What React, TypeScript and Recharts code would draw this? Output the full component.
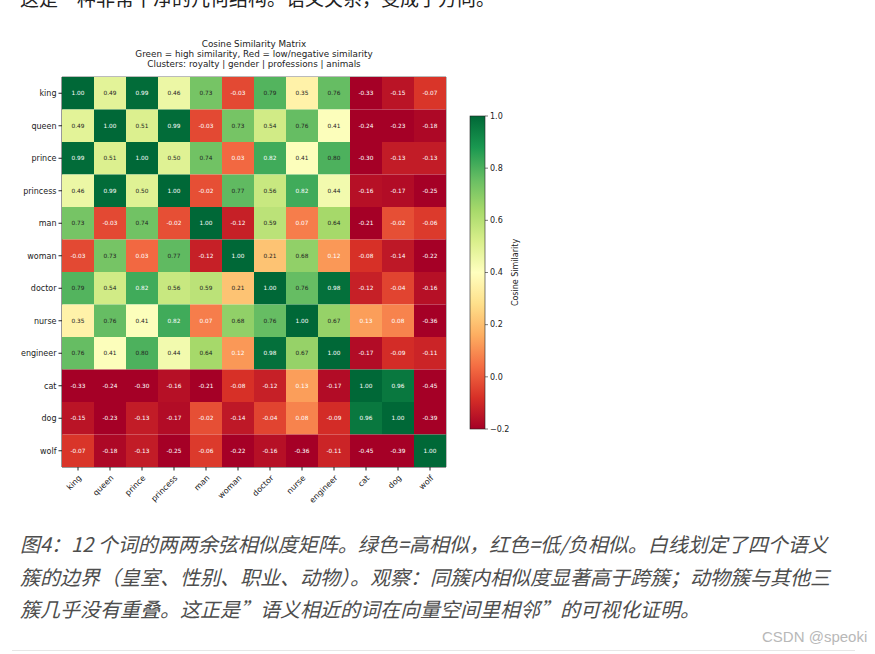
import React from 'react';
import {
  ScatterChart,
  Scatter,
  XAxis,
  YAxis,
  ReferenceLine,
  ReferenceArea,
} from 'recharts';

const WORDS = ['king', 'queen', 'prince', 'princess', 'man', 'woman', 'doctor', 'nurse', 'engineer', 'cat', 'dog', 'wolf'];

const SIM = [
  [1.0, 0.49, 0.99, 0.46, 0.73, -0.03, 0.79, 0.35, 0.76, -0.33, -0.15, -0.07],
  [0.49, 1.0, 0.51, 0.99, -0.03, 0.73, 0.54, 0.76, 0.41, -0.24, -0.23, -0.18],
  [0.99, 0.51, 1.0, 0.5, 0.74, 0.03, 0.82, 0.41, 0.8, -0.3, -0.13, -0.13],
  [0.46, 0.99, 0.5, 1.0, -0.02, 0.77, 0.56, 0.82, 0.44, -0.16, -0.17, -0.25],
  [0.73, -0.03, 0.74, -0.02, 1.0, -0.12, 0.59, 0.07, 0.64, -0.21, -0.02, -0.06],
  [-0.03, 0.73, 0.03, 0.77, -0.12, 1.0, 0.21, 0.68, 0.12, -0.08, -0.14, -0.22],
  [0.79, 0.54, 0.82, 0.56, 0.59, 0.21, 1.0, 0.76, 0.98, -0.12, -0.04, -0.16],
  [0.35, 0.76, 0.41, 0.82, 0.07, 0.68, 0.76, 1.0, 0.67, 0.13, 0.08, -0.36],
  [0.76, 0.41, 0.8, 0.44, 0.64, 0.12, 0.98, 0.67, 1.0, -0.17, -0.09, -0.11],
  [-0.33, -0.24, -0.3, -0.16, -0.21, -0.08, -0.12, 0.13, -0.17, 1.0, 0.96, -0.45],
  [-0.15, -0.23, -0.13, -0.17, -0.02, -0.14, -0.04, 0.08, -0.09, 0.96, 1.0, -0.39],
  [-0.07, -0.18, -0.13, -0.25, -0.06, -0.22, -0.16, -0.36, -0.11, -0.45, -0.39, 1.0],
];

const CLUSTER_BREAKS = [4, 6, 9];
const CBAR_TICKS = [1.0, 0.8, 0.6, 0.4, 0.2, 0.0, -0.2];
const VMIN = -0.2;
const VMAX = 1.0;

const TITLE_LINES = [
  'Cosine Similarity Matrix',
  'Green = high similarity, Red = low/negative similarity',
  'Clusters: royalty | gender | professions | animals',
];

const TOP_TEXT = '这是一种非常干净的几何结构。语义关系，变成了方向。';
const CAPTION_LINES = [
  '图4：12 个词的两两余弦相似度矩阵。绿色=高相似，红色=低/负相似。白线划定了四个语义',
  '簇的边界（皇室、性别、职业、动物）。观察：同簇内相似度显著高于跨簇；动物簇与其他三',
  '簇几乎没有重叠。这正是”语义相近的词在向量空间里相邻”的可视化证明。',
];

// RdYlGn
const RDYLGN = ['#a50026', '#d73027', '#f46d43', '#fdae61', '#fee08b', '#ffffbf', '#d9ef8b', '#a6d96a', '#66bd63', '#1a9850', '#006837'];

const hexToRgb = (h: string) => [1, 3, 5].map((i) => parseInt(h.slice(i, i + 2), 16));

function cmap(v: number) {
  let t = (v - VMIN) / (VMAX - VMIN);
  t = Math.max(0, Math.min(1, t));
  const pos = t * (RDYLGN.length - 1);
  const i = Math.min(Math.floor(pos), RDYLGN.length - 2);
  const f = pos - i;
  const a = hexToRgb(RDYLGN[i]);
  const b = hexToRgb(RDYLGN[i + 1]);
  const c = a.map((x, k) => Math.round(x + (b[k] - x) * f));
  return `rgb(${c[0]},${c[1]},${c[2]})`;
}

const cells = SIM.flatMap((row, r) => row.map((v, c) => ({ x: c + 0.5, y: r + 0.5, v })));
const centerTicks = WORDS.map((_, i) => i + 0.5);

// chart geometry
const CHART_W = 460;
const CHART_H = 530;
const MARGIN = { top: 77, right: 14, left: 12, bottom: 13 };
const Y_AXIS_W = 50;
const X_AXIS_H = 50;
const PLOT_W = CHART_W - MARGIN.left - MARGIN.right - Y_AXIS_W;
const PLOT_H = CHART_H - MARGIN.top - MARGIN.bottom - X_AXIS_H;
const CW = PLOT_W / WORDS.length;
const CH = PLOT_H / WORDS.length;

const HeatCell = (props: any) => {
  const { cx, cy, payload } = props;
  const v = payload.v;
  const light = v > 0.8 || v < 0.2;
  return (
    <g>
      <rect x={cx - CW / 2} y={cy - CH / 2} width={CW} height={CH} fill={cmap(v)} />
      <text
        x={cx}
        y={cy}
        dy="0.35em"
        textAnchor="middle"
        fontSize={5.8}
        fontFamily="DejaVu Sans"
        fill={light ? '#ffffff' : '#222222'}
      >
        {v.toFixed(2)}
      </text>
    </g>
  );
};

const XTick = (props: any) => {
  const { x, y, payload } = props;
  return (
    <g transform={`translate(${x},${y + 2})`}>
      <text
        transform="rotate(-45)"
        textAnchor="end"
        dy="0.7em"
        fontSize={8}
        fontFamily="DejaVu Sans"
        fill="#222"
      >
        {WORDS[Math.floor(payload.value)]}
      </text>
    </g>
  );
};

function Colorbar() {
  const top = 16;
  const bottom = 329;
  const x0 = 10;
  const w = 15;
  const yOf = (v: number) => top + ((VMAX - v) / (VMAX - VMIN)) * (bottom - top);
  return (
    <svg width={100} height={350} style={{ position: 'absolute', left: 460, top: 100 }}>
      <defs>
        <linearGradient id="cbar" x1="0" y1="1" x2="0" y2="0">
          {RDYLGN.map((c, i) => (
            <stop key={i} offset={`${(i / (RDYLGN.length - 1)) * 100}%`} stopColor={c} />
          ))}
        </linearGradient>
      </defs>
      <rect x={x0} y={top} width={w} height={bottom - top} fill="url(#cbar)" stroke="#222" strokeWidth={0.6} />
      {CBAR_TICKS.map((t) => (
        <g key={t}>
          <line x1={x0 + w} x2={x0 + w + 3} y1={yOf(t)} y2={yOf(t)} stroke="#222" strokeWidth={0.6} />
          <text x={x0 + w + 5} y={yOf(t)} dy="0.35em" fontSize={8} fontFamily="DejaVu Sans" fill="#222">
            {t < 0 ? '\u2212' + Math.abs(t).toFixed(1) : t.toFixed(1)}
          </text>
        </g>
      ))}
      <text
        transform={`translate(58,${(top + bottom) / 2}) rotate(-90)`}
        textAnchor="middle"
        fontSize={8}
        fontFamily="DejaVu Sans"
        fill="#222"
      >
        Cosine Similarity
      </text>
    </svg>
  );
}

export default function App() {
  return (
    <div
      style={{
        position: 'fixed',
        left: 0,
        top: 0,
        width: 875,
        height: 654,
        overflow: 'hidden',
        background: '#fff',
      }}
    >
      <div
        style={{
          position: 'absolute',
          left: 20,
          top: -12,
          fontSize: 19,
          lineHeight: '19px',
          whiteSpace: 'nowrap',
          color: '#222',
          fontFamily: '"Noto Sans CJK SC", sans-serif',
        }}
      >
        {TOP_TEXT}
      </div>

      {/* title */}
      <div
        style={{
          position: 'absolute',
          left: 54,
          width: 400,
          top: 39,
          textAlign: 'center',
          fontSize: 8.8,
          lineHeight: '10px',
          fontFamily: '"DejaVu Sans"',
          color: '#222',
        }}
      >
        {TITLE_LINES.map((l) => (
          <div key={l}>{l}</div>
        ))}
      </div>

      <div style={{ position: 'absolute', left: 0, top: 0 }}>
        <ScatterChart width={CHART_W} height={CHART_H} margin={MARGIN}>
          <XAxis
            type="number"
            dataKey="x"
            domain={[0, 12]}
            ticks={centerTicks}
            interval={0}
            height={X_AXIS_H}
            tick={<XTick />}
            tickSize={3.5}
            tickLine={{ stroke: '#222' }}
            axisLine={{ stroke: '#777' }}
            allowDataOverflow
          />
          <YAxis
            type="number"
            dataKey="y"
            domain={[0, 12]}
            reversed
            ticks={centerTicks}
            interval={0}
            width={Y_AXIS_W}
            tickFormatter={(v: number) => WORDS[Math.floor(v)]}
            tick={{ fontSize: 8, fontFamily: 'DejaVu Sans', fill: '#222' }}
            tickSize={3.5}
            tickLine={{ stroke: '#222' }}
            axisLine={{ stroke: '#777' }}
            allowDataOverflow
          />
          <Scatter data={cells} shape={<HeatCell />} isAnimationActive={false} />
          {CLUSTER_BREAKS.map((b) => (
            <ReferenceLine key={`v${b}`} x={b} stroke="#fff" strokeWidth={2} />
          ))}
          {CLUSTER_BREAKS.map((b) => (
            <ReferenceLine key={`h${b}`} y={b} stroke="#fff" strokeWidth={2} />
          ))}
          <ReferenceArea x1={0} x2={12} y1={0} y2={12} fill="none" stroke="#777" strokeWidth={1} />
        </ScatterChart>
      </div>

      <Colorbar />

      <div
        style={{
          position: 'absolute',
          left: 20,
          top: 528,
          fontSize: 20,
          lineHeight: '32.5px',
          fontStyle: 'italic',
          color: '#4d4d4d',
          whiteSpace: 'nowrap',
          fontFamily: '"Noto Sans CJK SC", sans-serif',
        }}
      >
        {CAPTION_LINES.map((l) => (
          <div key={l}>{l}</div>
        ))}
      </div>

      <div
        style={{
          position: 'absolute',
          left: 762,
          top: 628,
          fontSize: 15,
          color: '#b8b8b8',
          fontFamily: '"Liberation Sans", Arial, sans-serif',
          whiteSpace: 'nowrap',
        }}
      >
        CSDN @speoki
      </div>
      <div
        style={{
          position: 'absolute',
          left: 12,
          width: 843,
          top: 650,
          height: 1,
          background: '#e6e6e6',
        }}
      />
    </div>
  );
}
